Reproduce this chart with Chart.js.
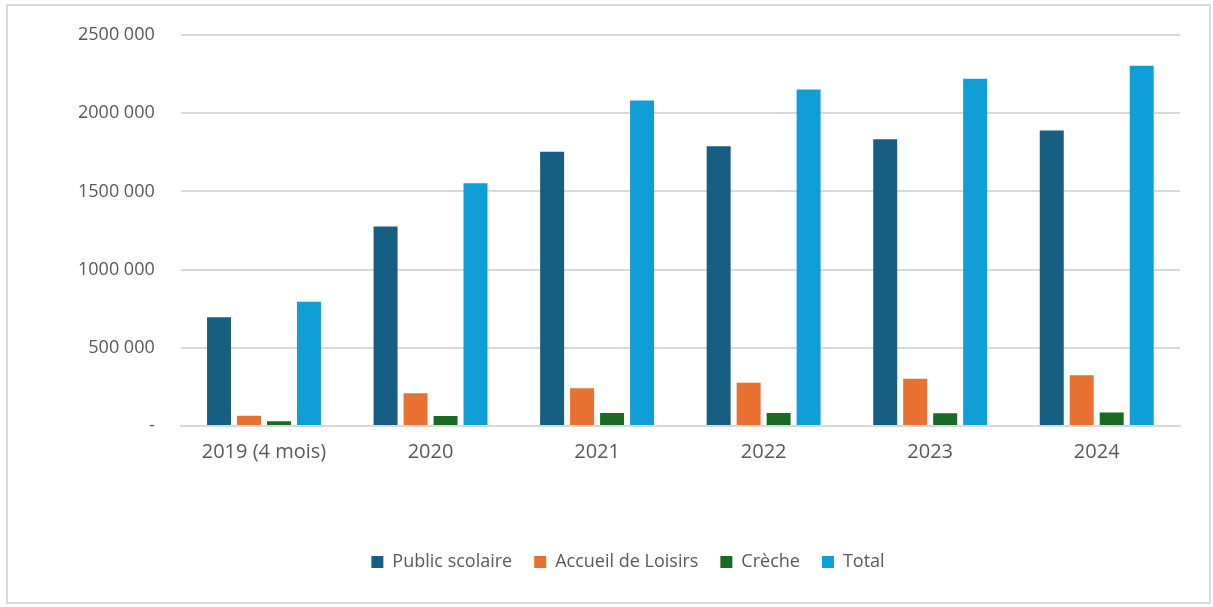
<!DOCTYPE html>
<html>
<head>
<meta charset="utf-8">
<script src="https://cdn.jsdelivr.net/npm/chart.js@4/dist/chart.umd.min.js"></script>
<style>
    html, body { margin: 0; padding: 0; background: #fff; }
    #frame {
        position: absolute; left: 6px; top: 4px;
        width: 1201px; height: 596px;
        border: 2px solid #d9d9d9;
    }
    #wrap { position: absolute; left: 0; top: 0; width: 1201px; height: 596px; }
</style>
</head>
<body>
<div id="frame"><div id="wrap"><canvas id="chart"></canvas></div></div>
<script>
const annees = ['2019 (4 mois)', '2020', '2021', '2022', '2023', '2024'];
const publicScolaire = [695000, 1275000, 1754000, 1788000, 1833000, 1890000];
const accueilLoisirs = [66000, 209000, 241000, 277000, 302000, 324000];
const creche = [30000, 64000, 83000, 83000, 81000, 87000];
const total = [794000, 1552000, 2082000, 2152000, 2220000, 2303000];

const fmt = (v) => {
    if (v === 0) return '-';
    const milliers = Math.floor(v / 1000);
    return milliers + ' ' + String(v % 1000).padStart(3, '0');
};

const police = "'Open Sans', 'Liberation Sans', sans-serif";

new Chart(document.getElementById('chart'), {
    type: 'bar',
    data: {
        labels: annees,
        datasets: [
            { label: 'Public scolaire', data: publicScolaire, backgroundColor: '#175f82' },
            { label: 'Accueil de Loisirs', data: accueilLoisirs, backgroundColor: '#e97132' },
            { label: 'Crèche', data: creche, backgroundColor: '#196b24' },
            { label: 'Total', data: total, backgroundColor: '#0f9ed5' }
        ]
    },
    options: {
        responsive: true,
        maintainAspectRatio: false,
        animation: false,
        datasets: {
            bar: { categoryPercentage: 0.72, barPercentage: 0.8 }
        },
        layout: { padding: { left: 68, right: 29, top: 29, bottom: 21 } },
        plugins: {
            legend: {
                position: 'bottom',
                labels: {
                    boxWidth: 12, boxHeight: 12, padding: 22,
                    color: '#595959',
                    font: { family: police, size: 18 }
                }
            },
            tooltip: { enabled: false }
        },
        scales: {
            x: {
                grid: { display: false, drawTicks: false },
                border: { color: '#d9d9d9', width: 2 },
                ticks: { color: '#595959', padding: 14, font: { family: police, size: 20 } },
                // espace vide entre les années et la légende
                afterFit: (s) => { s.height += 53; }
            },
            y: {
                min: 0, max: 2500000,
                // graduations invisibles : écart horizontal sans marge verticale
                grid: { color: '#d9d9d9', lineWidth: 2, drawTicks: true, tickLength: 24, tickColor: 'rgba(0,0,0,0)' },
                border: { display: false },
                ticks: {
                    stepSize: 500000,
                    padding: 2,
                    color: '#595959',
                    font: { family: police, size: 18 },
                    callback: (v) => fmt(v)
                }
            }
        }
    }
});
</script>
</body>
</html>
